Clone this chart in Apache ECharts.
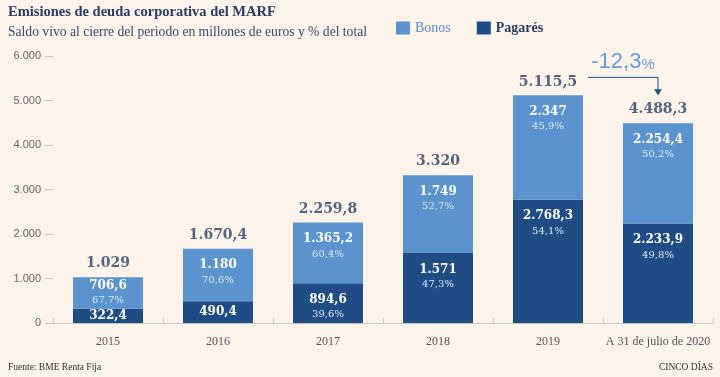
<!DOCTYPE html>
<html>
<head>
<meta charset="utf-8">
<script src="https://cdn.jsdelivr.net/npm/echarts@6/dist/echarts.min.js"></script>
<style>
html, body { margin: 0; background: #fcf3ea; }
#chart { width: 720px; height: 377px; }
</style>
</head>
<body>
<div id="chart"></div>
<script>
const categories = ['2015', '2016', '2017', '2018', '2019', 'A 31 de julio de 2020'];
const bonos = [706.6, 1180, 1365.2, 1749, 2347, 2254.4];
const pagares = [322.4, 490.4, 894.6, 1571, 2768.3, 2233.9];
const totals = [1029, 1670.4, 2259.8, 3320, 5115.5, 4488.3];
const bonosPct = ['67,7%', '70,6%', '60,4%', '52,7%', '45,9%', '50,2%'];
const pagaresPct = [null, null, '39,6%', '47,3%', '54,1%', '49,8%'];
const yTicks = [0, 1000, 2000, 3000, 4000, 5000, 6000];
const change = '-12,3';

const LIGHT = '#5b93cf';
const DARK = '#1f4c84';
const INK = '#2b3d62';
const SERIF = '"Liberation Serif", serif';
const SLAB = '"DejaVu Serif", serif';

// 1670.4 -> "1.670,4"
const fmt = v => {
    const [i, d] = String(v).split('.');
    const int = i.replace(/\B(?=(\d{3})+(?!\d))/g, '.');
    return d ? int + ',' + d : int;
};

const rich = {
    v: {color: '#fff', fontFamily: SLAB, fontWeight: 'bold', fontSize: 12, lineHeight: 15},
    p: {color: '#dce8f6', fontFamily: SLAB, fontSize: 10, lineHeight: 15},
};

const segLabel = (v, pct, tight) => {
    if (!pct) {
        return {show: true, position: 'inside', formatter: `{v|${fmt(v)}}`, rich};
    }
    return {
        show: true,
        position: tight ? 'inside' : 'insideTop',
        distance: 9,
        formatter: `{v|${fmt(v)}}\n{p|${pct}}`,
        rich,
    };
};

const chart = echarts.init(document.getElementById('chart'));

chart.setOption({
    backgroundColor: '#fcf3ea',
    animation: false,
    title: [{
        text: 'Emisiones de deuda corporativa del MARF',
        subtext: 'Saldo vivo al cierre del periodo en millones de euros y % del total',
        left: 3,
        top: 0,
        itemGap: 5,
        textStyle: {fontFamily: SERIF, fontSize: 14.5, fontWeight: 'bold', color: INK},
        subtextStyle: {fontFamily: SERIF, fontSize: 13.6, color: '#3a4a6c'},
    }, {
        text: 'Fuente: BME Renta Fija',
        left: 3,
        bottom: 0,
        textStyle: {fontFamily: SERIF, fontSize: 9.5, fontWeight: 'normal', color: '#333'},
    }, {
        text: 'CINCO DÍAS',
        right: 2,
        bottom: 0,
        textStyle: {fontFamily: SERIF, fontSize: 9.5, fontWeight: 'normal', color: '#333'},
    }],
    legend: {
        left: 391,
        top: 16,
        icon: 'rect',
        itemWidth: 14,
        itemHeight: 13,
        itemGap: 26,
        textStyle: {fontFamily: SERIF, fontSize: 14},
        data: [
            {name: 'Bonos', textStyle: {color: '#5b8fd0'}},
            {name: 'Pagarés', textStyle: {color: INK, fontWeight: 'bold'}},
        ],
    },
    grid: {left: 53, right: 7, top: 56, bottom: 54},
    xAxis: {
        type: 'category',
        data: categories,
        axisLine: {lineStyle: {color: '#c9c4bf'}},
        axisTick: {show: true, inside: true, length: 5, lineStyle: {color: '#c9c4bf'}},
        axisLabel: {interval: 0, fontFamily: SERIF, fontSize: 12, color: '#555', margin: 13},
    },
    yAxis: {
        type: 'value',
        min: yTicks[0],
        max: yTicks[yTicks.length - 1],
        interval: 1000,
        axisLine: {show: false},
        axisTick: {show: true, length: 8, lineStyle: {color: '#c9c4bf'}},
        splitLine: {show: false},
        axisLabel: {
            fontFamily: '"Liberation Sans", sans-serif',
            fontSize: 11,
            color: '#666',
            margin: 12,
            formatter: fmt,
        },
    },
    series: [{
        name: 'Pagarés',
        type: 'bar',
        stack: 'total',
        barWidth: 70,
        itemStyle: {color: DARK},
        data: pagares.map((v, i) => ({value: v, label: segLabel(v, pagaresPct[i], false)})),
    }, {
        name: 'Bonos',
        type: 'bar',
        stack: 'total',
        barWidth: 70,
        itemStyle: {color: LIGHT},
        data: bonos.map((v, i) => ({value: v, label: segLabel(v, bonosPct[i], i === 0)})),
    }, {
        name: 'Total',
        type: 'scatter',
        symbolSize: 1,
        itemStyle: {color: 'rgba(0,0,0,0)'},
        data: totals,
        label: {
            show: true,
            position: 'top',
            distance: 6,
            formatter: p => fmt(p.value),
            fontFamily: SLAB,
            fontWeight: 'bold',
            fontSize: 14,
            color: INK,
        },
    }],
});

// variation arrow from 2019 to the last period
const drawChange = () => {
    const from = chart.convertToPixel({xAxisIndex: 0, yAxisIndex: 0}, [categories[4], totals[4]]);
    const to = chart.convertToPixel({xAxisIndex: 0, yAxisIndex: 0}, [categories[5], totals[5]]);
    const lineY = from[1] - 18;
    const x0 = from[0] + 40;
    const tipY = to[1] - 28;
    chart.setOption({
        graphic: [{
            type: 'polyline',
            shape: {points: [[x0, lineY], [to[0], lineY], [to[0], tipY - 5]]},
            style: {stroke: DARK, lineWidth: 1, fill: null},
        }, {
            type: 'polygon',
            shape: {points: [[to[0] - 4, tipY - 6], [to[0] + 4, tipY - 6], [to[0], tipY]]},
            style: {fill: DARK},
        }, {
            type: 'text',
            x: (x0 + to[0]) / 2,
            y: lineY - 15,
            style: {
                text: `{a|${change}}{b|%}`,
                align: 'center',
                verticalAlign: 'middle',
                rich: {
                    a: {fontFamily: '"Liberation Sans", sans-serif', fontSize: 22, fill: '#6b9bd4'},
                    b: {fontFamily: '"Liberation Sans", sans-serif', fontSize: 15, fill: '#6b9bd4', padding: [5, 0, 0, 0]},
                },
            },
        }],
    });
};
drawChange();
</script>
</body>
</html>
